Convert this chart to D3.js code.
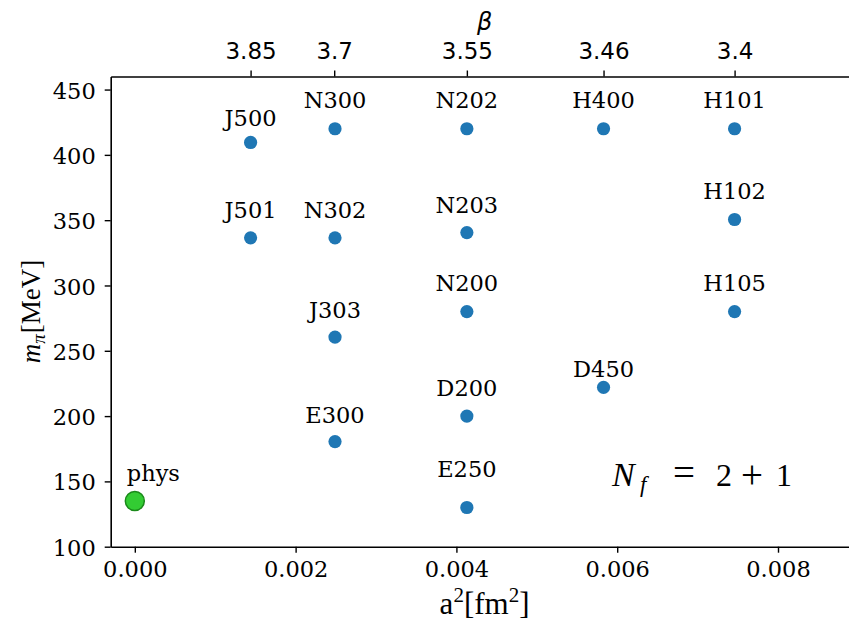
<!DOCTYPE html>
<html>
<head>
<meta charset="utf-8">
<script src="https://cdn.jsdelivr.net/npm/d3@7"></script>
<style>
  html, body { margin: 0; padding: 0; background: #fff; overflow: hidden; }
  svg { display: block; }
</style>
</head>
<body>
<svg id="chart" width="849" height="623"></svg>
<script>
// ---- data ----
const ensembles = ["J500","J501","N300","N302","J303","E300","N202","N203","N200","D200","E250","H400","D450","H101","H102","H105"];
const a2Values  = [0.00144,0.00144,0.00249,0.00249,0.00249,0.00249,0.00413,0.00413,0.00413,0.00413,0.00413,0.00583,0.00583,0.00746,0.00746,0.00746];
const mpiValues = [409.5,336.5,420,336.5,260.5,180.5,420,340.5,280,200,130,420,222,420,350.5,280];
// annotation text anchor (data coordinates, m_pi) for each ensemble label
const labelMpi  = [422,352,436,352,275,195,436,355.5,296,215.5,153.5,436,230,436,366,296];
const physName = "phys";
const physA2 = [0.0];
const physMpi = [135];
const physLabelA2 = -0.0001;
const physLabelMpi = 150;
const xTicks = [0.000,0.002,0.004,0.006,0.008];
const yTicks = [100,150,200,250,300,350,400,450];
const betaTickLabels = ["3.85","3.7","3.55","3.46","3.4"];
const betaTickA2 = [0.00144,0.00248,0.00413,0.00583,0.00746];
const xDomain = [-0.0003, 0.009];
const yDomain = [100, 460];

// ---- layout ----
const svg = d3.select("#chart");
const L = 110.7, R = 858.4, T = 76.5, B = 546.7;
const x = d3.scaleLinear().domain(xDomain).range([L, R]);
const y = d3.scaleLinear().domain(yDomain).range([B, T]);
const serif = "'DejaVu Serif', serif";
const sans = "'DejaVu Sans', sans-serif";
const mathFont = "'Liberation Serif', serif";
const FS = 22.5;

// axes
const xAxis = d3.axisBottom(x).tickValues(xTicks).tickFormat(d3.format(".3f")).tickSize(6).tickSizeOuter(0).tickPadding(8);
const yAxis = d3.axisLeft(y).tickValues(yTicks).tickFormat(d3.format("d")).tickSize(6).tickSizeOuter(0).tickPadding(9);
const topAxis = d3.axisTop(x).tickValues(betaTickA2).tickFormat((d,i) => betaTickLabels[i]).tickSize(6).tickSizeOuter(0).tickPadding(12);

const gx = svg.append("g").attr("transform", `translate(0,${B})`).call(xAxis);
gx.selectAll("text").attr("font-family", serif).attr("font-size", FS).attr("fill", "#000");
const gy = svg.append("g").attr("transform", `translate(${L},0)`).call(yAxis);
gy.selectAll("text").attr("font-family", serif).attr("font-size", FS).attr("fill", "#000").attr("dy", "0.38em");
const gt = svg.append("g").attr("transform", `translate(0,${T})`).call(topAxis);
gt.selectAll("text").attr("font-family", sans).attr("font-size", 23).attr("fill", "#000");

[gx, gy, gt].forEach(g => {
  g.attr("font-size", null).attr("font-family", null);
  g.select(".domain").attr("stroke", "#000").attr("stroke-width", 1.6);
  g.selectAll(".tick line").attr("stroke", "#000").attr("stroke-width", 1.4);
});

// points
const pts = ensembles.map((n, i) => ({ name: n, a2: a2Values[i], mpi: mpiValues[i], lab: labelMpi[i] }));
svg.append("g").selectAll("circle").data(pts).join("circle")
  .attr("cx", d => x(d.a2)).attr("cy", d => y(d.mpi)).attr("r", 6.6)
  .attr("fill", "#1f77b4");
svg.append("g").selectAll("text").data(pts).join("text")
  .attr("x", d => x(d.a2)).attr("y", d => y(d.lab))
  .attr("text-anchor", "middle")
  .attr("font-family", serif).attr("font-size", FS).attr("fill", "#000")
  .text(d => d.name);

// physical point
svg.append("circle").attr("cx", x(physA2[0])).attr("cy", y(physMpi[0])).attr("r", 9.5)
  .attr("fill", "#33cc33").attr("stroke", "#1a8a1a").attr("stroke-width", 1.5);
svg.append("text").attr("x", x(physLabelA2)).attr("y", y(physLabelMpi))
  .attr("font-family", serif).attr("font-size", FS).attr("fill", "#000").text(physName);

// axis labels
const xl = svg.append("text").attr("x", (L + R) / 2).attr("y", 614).attr("text-anchor", "middle")
  .attr("font-family", mathFont).attr("font-size", 31).attr("fill", "#000");
xl.append("tspan").text("a");
xl.append("tspan").attr("font-size", 21).attr("dy", -12).text("2");
xl.append("tspan").attr("dy", 12).text("[fm");
xl.append("tspan").attr("font-size", 21).attr("dy", -12).text("2");
xl.append("tspan").attr("dy", 12).text("]");

const yl = svg.append("text").attr("transform", `translate(40,${(T + B) / 2}) rotate(-90)`)
  .attr("text-anchor", "middle").attr("font-family", mathFont).attr("font-size", 27).attr("fill", "#000");
yl.append("tspan").attr("font-style", "italic").text("m");
yl.append("tspan").attr("font-style", "italic").attr("font-size", 19).attr("dy", 5).text("π");
yl.append("tspan").attr("dy", -5).attr("dx", 1).text("[MeV]");

svg.append("text").attr("x", (L + R) / 2).attr("y", 30).attr("text-anchor", "middle")
  .attr("font-family", sans).attr("font-style", "italic").attr("font-size", 24).attr("fill", "#000").text("β");

const nf = svg.append("text").attr("y", 486)
  .attr("font-family", mathFont).attr("font-size", 32).attr("fill", "#000");
nf.append("tspan").attr("x", 612).attr("font-style", "italic").attr("font-size", 34).text("N");
nf.append("tspan").attr("x", 640).attr("font-style", "italic").attr("font-size", 23).attr("dy", 6).text("f");
nf.append("tspan").attr("x", 673).attr("dy", -6).attr("font-size", 39).text("=");
nf.append("tspan").attr("x", 716).text("2");
nf.append("tspan").attr("x", 741).attr("dy", 2).attr("font-size", 39).text("+");
nf.append("tspan").attr("x", 776).attr("dy", -2).text("1");
</script>
</body>
</html>
